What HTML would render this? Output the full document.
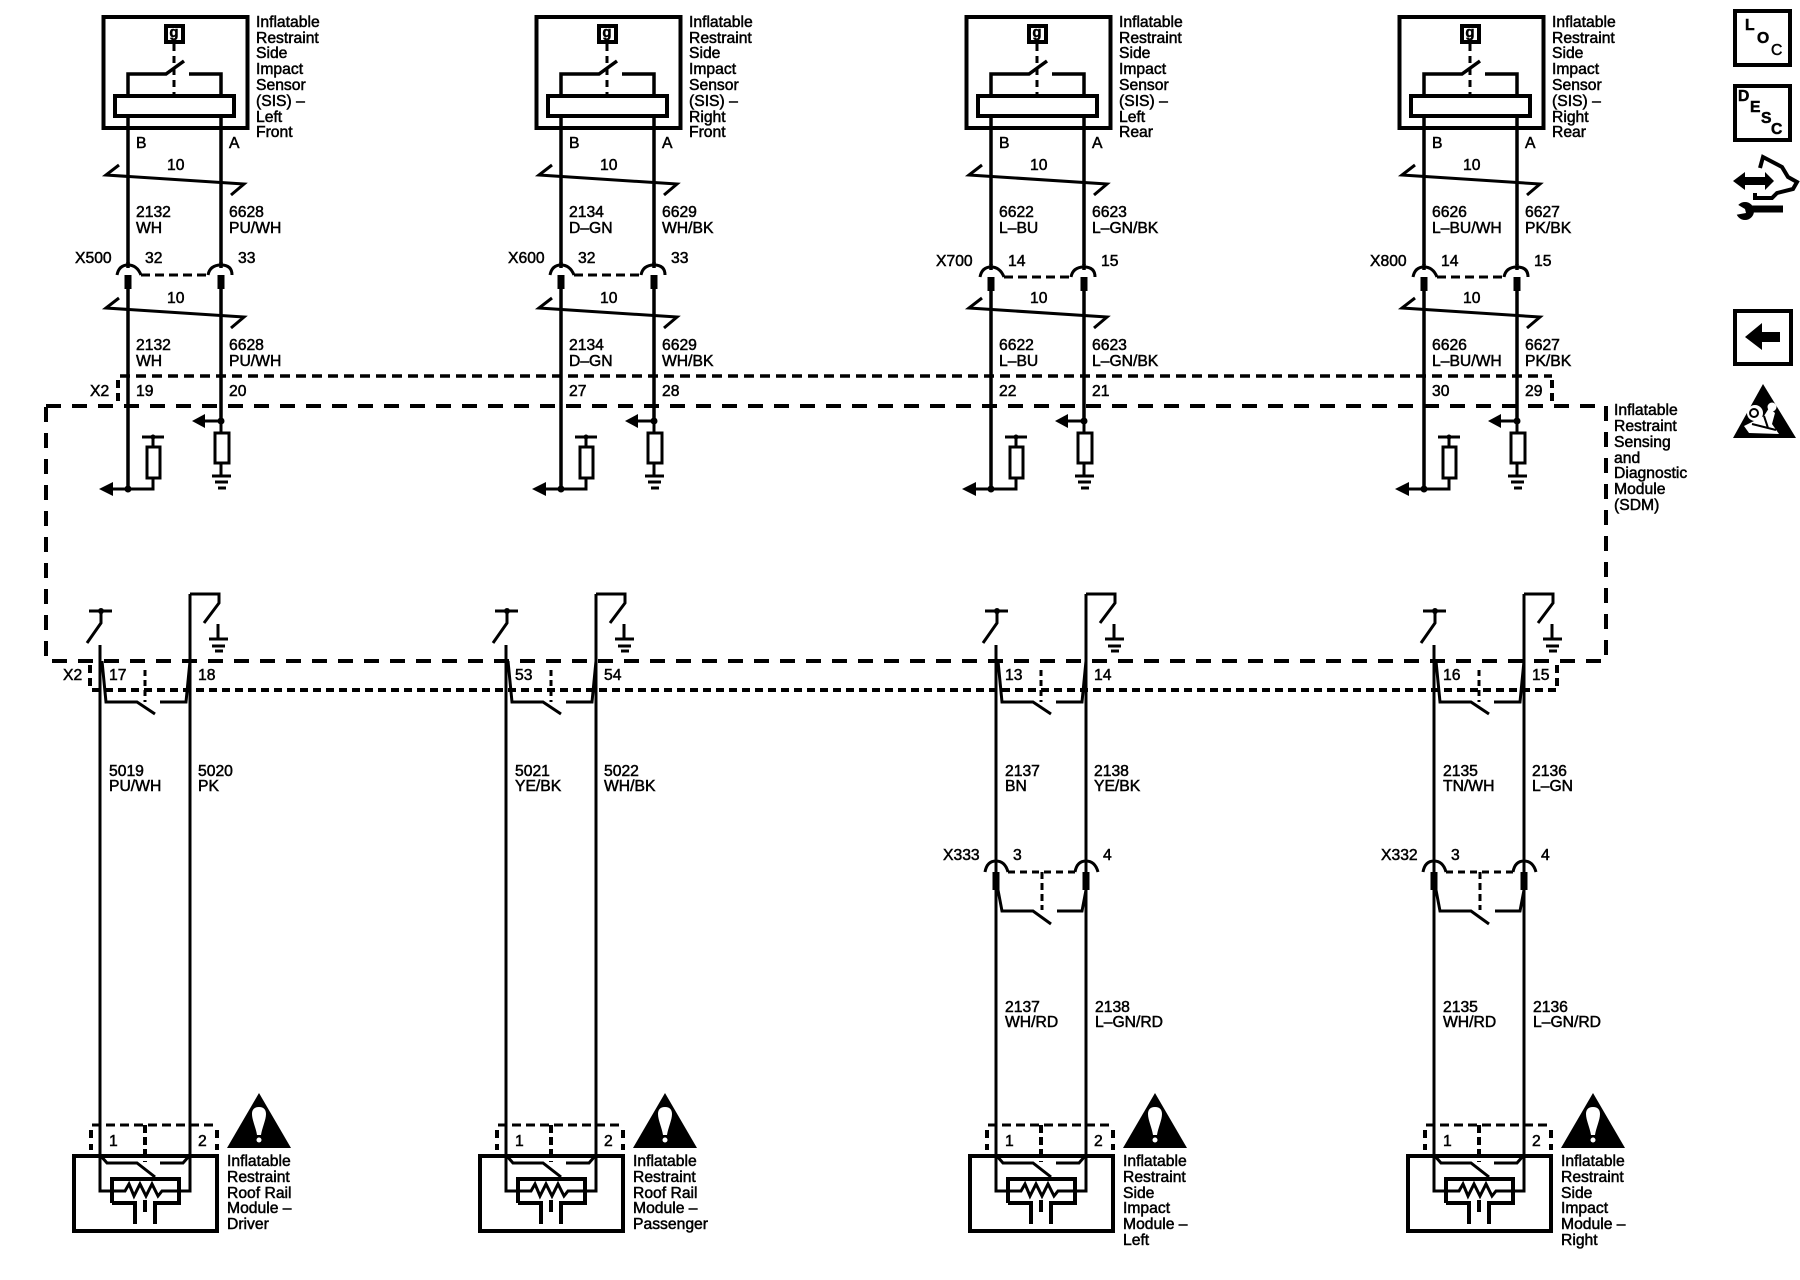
<!DOCTYPE html>
<html><head><meta charset="utf-8"><style>
html,body{margin:0;padding:0;background:#fff}
svg{display:block}
text{font-family:"Liberation Sans",sans-serif;font-size:15.7px;fill:#000;stroke:#000;stroke-width:.5px}
.w{fill:none;stroke:#000;stroke-width:3.5}
.b{fill:none;stroke:#000;stroke-width:4}
.t{fill:none;stroke:#000;stroke-width:3}
</style></head><body>
<svg xmlns="http://www.w3.org/2000/svg" width="1800" height="1280" viewBox="0 0 1800 1280">
<defs>
<g id="top">
<rect class="b" x="103.500" y="17" width="144" height="111"/>
<rect class="b" x="115" y="96" width="119" height="20"/>
<rect class="b" x="166" y="26" width="17" height="16"/>
<path class="t" d="M174 44V94" stroke-dasharray="7 5"/>
<path class="w" d="M128 94V74H166L184 61M189 74H221V94"/>
<path class="w" d="M128 118V265M221 118V265"/>
<path class="t" d="M119 165L106 175L244 184L231 195"/>
<path class="w" d="M128 289V489M221 289V421"/>
<path class="t" d="M119 298L106 308L244 317L231 328"/>
<path class="t" d="M221 421H205"/>
<path d="M192 421L205 414V428Z"/>
<circle cx="221" cy="421" r="3.500"/>
<rect class="t" x="215" y="433" width="14" height="30"/>
<path class="t" d="M221 421V433M221 463V476"/>
<path class="t" d="M212 476H231M215 482H228M218 488H226"/>
<path class="t" d="M142 437H164M153 437V447"/>
<circle cx="153" cy="437" r="2.500"/>
<rect class="t" x="147" y="447" width="13" height="31"/>
<path class="t" d="M153 478V489H113"/>
<path d="M99 489L113 482V496Z"/>
<circle cx="128" cy="489" r="3.500"/>
</g>
<g id="conn1">
<path class="t" d="M117 275Q119 265 128 265T141 275M208 275Q210 265 221 265T232 275"/>
<path class="t" d="M141 275H208" stroke-dasharray="9 5" stroke-width="3.500"/>
<path d="M128 275V289M221 275V289" stroke="#000" stroke-width="7" fill="none"/>
<path class="w" d="M128 262V268M221 262V268"/>
</g>
<g id="low">
<path class="t" d="M89 611H112M101 611V623L87 643"/>
<circle cx="101" cy="611" r="3"/>
<path class="t" d="M190 594H219V603L204 623"/>
<path class="t" d="M218 624V639M209 639H228M212 646H225M215 651H223"/>
<path class="t" d="M100 645V1191H112M190 594V1191H179"/>
<path class="t" d="M102 661L106 702H137L155 714M160 702H186L190 661"/>
<path class="t" d="M145 670V702" stroke-dasharray="6 4"/>
</g>
<g id="conn2">
<path class="t" d="M985 872Q987 861 996 861T1008 872M1075 872Q1077 861 1086 861T1098 872"/>
<path class="t" d="M1008 872H1075" stroke-dasharray="7 5"/>
<path class="t" d="M1042 872V910" stroke-dasharray="7 4" stroke-width="3.500"/>
<path d="M996 872V890M1086 872V890" stroke="#000" stroke-width="7" fill="none"/>
<path class="t" d="M998 890L1002 911H1033L1051 924M1057 911H1082L1086 890"/>
</g>
<g id="mod">
<rect class="b" x="74" y="1156" width="143" height="75"/>
<path class="t" d="M92 1125H217" stroke-dasharray="9 5"/>
<path class="b" d="M91 1130V1150M217 1130V1150" stroke-dasharray="8 6"/>
<path class="b" d="M145 1125V1162" stroke-dasharray="8 4"/>
<path class="t" d="M100 1155L107 1163H137L155 1177M160 1163H183L190 1155"/>
<path class="b" d="M112 1203V1179H179V1203H155V1224M112 1203H135V1224"/>
<path class="t" d="M112 1191H125L129 1184L134 1196L140 1184L146 1196L152 1184L158 1196L162 1191H179"/>
<path class="b" d="M145 1200V1212"/>
<path d="M259 1093L291 1148H227Z"/>
<path fill="#fff" d="M259 1107C254 1107 252 1110 252 1114C252 1120 256 1128 257 1135H261C262 1128 266 1120 266 1114C266 1110 264 1107 259 1107Z"/>
<circle cx="259" cy="1140" r="2.500" fill="#fff"/>
</g>
</defs>

<path d="M46 406H1606V661H46Z" fill="none" stroke="#000" stroke-width="4" stroke-dasharray="15 11"/>
<path d="M120 376H1552" fill="none" stroke="#000" stroke-width="3.500" stroke-dasharray="10 6"/>
<path d="M118 380V406M1552 380V406" fill="none" stroke="#000" stroke-width="4" stroke-dasharray="8 5"/>
<path d="M92 690H1557" fill="none" stroke="#000" stroke-width="4" stroke-dasharray="8 5"/>
<path d="M90 665V690M1557 665V690" fill="none" stroke="#000" stroke-width="4" stroke-dasharray="8 5"/>

<use href="#top"/>
<use href="#top" x="433"/>
<use href="#top" x="863"/>
<use href="#top" x="1296"/>
<use href="#conn1"/>
<use href="#conn1" x="433"/>
<use href="#conn1" x="863" y="2"/>
<use href="#conn1" x="1296" y="2"/>
<use href="#low"/>
<use href="#low" x="406"/>
<use href="#low" x="896"/>
<use href="#low" x="1334"/>
<use href="#conn2"/>
<use href="#conn2" x="438"/>
<use href="#mod"/>
<use href="#mod" x="406"/>
<use href="#mod" x="896"/>
<use href="#mod" x="1334"/>

<g>
<text x="256" y="27">Inflatable</text><text x="256" y="43">Restraint</text><text x="256" y="58">Side</text><text x="256" y="74">Impact</text><text x="256" y="90">Sensor</text><text x="256" y="106">(SIS) –</text><text x="256" y="122">Left</text><text x="256" y="137">Front</text>
<text x="136" y="148">B</text><text x="229" y="148">A</text><text x="167" y="170">10</text>
<text x="136" y="217">2132</text><text x="136" y="233">WH</text><text x="229" y="217">6628</text><text x="229" y="233">PU/WH</text>
<text x="75" y="263">X500</text><text x="145" y="263">32</text><text x="238" y="263">33</text>
<text x="167" y="303">10</text>
<text x="136" y="350">2132</text><text x="136" y="366">WH</text><text x="229" y="350">6628</text><text x="229" y="366">PU/WH</text>
<text x="90" y="396">X2</text><text x="136" y="396">19</text><text x="229" y="396">20</text>
</g>
<g transform="translate(433,0)">
<text x="256" y="27">Inflatable</text><text x="256" y="43">Restraint</text><text x="256" y="58">Side</text><text x="256" y="74">Impact</text><text x="256" y="90">Sensor</text><text x="256" y="106">(SIS) –</text><text x="256" y="122">Right</text><text x="256" y="137">Front</text>
<text x="136" y="148">B</text><text x="229" y="148">A</text><text x="167" y="170">10</text>
<text x="136" y="217">2134</text><text x="136" y="233">D–GN</text><text x="229" y="217">6629</text><text x="229" y="233">WH/BK</text>
<text x="75" y="263">X600</text><text x="145" y="263">32</text><text x="238" y="263">33</text>
<text x="167" y="303">10</text>
<text x="136" y="350">2134</text><text x="136" y="366">D–GN</text><text x="229" y="350">6629</text><text x="229" y="366">WH/BK</text>
<text x="136" y="396">27</text><text x="229" y="396">28</text>
</g>
<g transform="translate(863,0)">
<text x="256" y="27">Inflatable</text><text x="256" y="43">Restraint</text><text x="256" y="58">Side</text><text x="256" y="74">Impact</text><text x="256" y="90">Sensor</text><text x="256" y="106">(SIS) –</text><text x="256" y="122">Left</text><text x="256" y="137">Rear</text>
<text x="136" y="148">B</text><text x="229" y="148">A</text><text x="167" y="170">10</text>
<text x="136" y="217">6622</text><text x="136" y="233">L–BU</text><text x="229" y="217">6623</text><text x="229" y="233">L–GN/BK</text>
<text x="73" y="266">X700</text><text x="145" y="266">14</text><text x="238" y="266">15</text>
<text x="167" y="303">10</text>
<text x="136" y="350">6622</text><text x="136" y="366">L–BU</text><text x="229" y="350">6623</text><text x="229" y="366">L–GN/BK</text>
<text x="136" y="396">22</text><text x="229" y="396">21</text>
</g>
<g transform="translate(1296,0)">
<text x="256" y="27">Inflatable</text><text x="256" y="43">Restraint</text><text x="256" y="58">Side</text><text x="256" y="74">Impact</text><text x="256" y="90">Sensor</text><text x="256" y="106">(SIS) –</text><text x="256" y="122">Right</text><text x="256" y="137">Rear</text>
<text x="136" y="148">B</text><text x="229" y="148">A</text><text x="167" y="170">10</text>
<text x="136" y="217">6626</text><text x="136" y="233">L–BU/WH</text><text x="229" y="217">6627</text><text x="229" y="233">PK/BK</text>
<text x="74" y="266">X800</text><text x="145" y="266">14</text><text x="238" y="266">15</text>
<text x="167" y="303">10</text>
<text x="136" y="350">6626</text><text x="136" y="366">L–BU/WH</text><text x="229" y="350">6627</text><text x="229" y="366">PK/BK</text>
<text x="136" y="396">30</text><text x="229" y="396">29</text>
</g>

<text x="1614" y="415">Inflatable</text><text x="1614" y="431">Restraint</text><text x="1614" y="447">Sensing</text><text x="1614" y="463">and</text><text x="1614" y="478">Diagnostic</text><text x="1614" y="494">Module</text><text x="1614" y="510">(SDM)</text>

<g>
<text x="63" y="680">X2</text><text x="109" y="680">17</text><text x="198" y="680">18</text>
<text x="109" y="776">5019</text><text x="109" y="791">PU/WH</text><text x="198" y="776">5020</text><text x="198" y="791">PK</text>
<text x="109" y="1146">1</text><text x="198" y="1146">2</text>
<text x="227" y="1166">Inflatable</text><text x="227" y="1182">Restraint</text><text x="227" y="1198">Roof Rail</text><text x="227" y="1213">Module –</text><text x="227" y="1229">Driver</text>
</g>
<g transform="translate(406,0)">
<text x="109" y="680">53</text><text x="198" y="680">54</text>
<text x="109" y="776">5021</text><text x="109" y="791">YE/BK</text><text x="198" y="776">5022</text><text x="198" y="791">WH/BK</text>
<text x="109" y="1146">1</text><text x="198" y="1146">2</text>
<text x="227" y="1166">Inflatable</text><text x="227" y="1182">Restraint</text><text x="227" y="1198">Roof Rail</text><text x="227" y="1213">Module –</text><text x="227" y="1229">Passenger</text>
</g>
<g transform="translate(896,0)">
<text x="109" y="680">13</text><text x="198" y="680">14</text>
<text x="109" y="776">2137</text><text x="109" y="791">BN</text><text x="198" y="776">2138</text><text x="198" y="791">YE/BK</text>
<text x="47" y="860">X333</text><text x="117" y="860">3</text><text x="207" y="860">4</text>
<text x="109" y="1012">2137</text><text x="109" y="1027">WH/RD</text><text x="199" y="1012">2138</text><text x="199" y="1027">L–GN/RD</text>
<text x="109" y="1146">1</text><text x="198" y="1146">2</text>
<text x="227" y="1166">Inflatable</text><text x="227" y="1182">Restraint</text><text x="227" y="1198">Side</text><text x="227" y="1213">Impact</text><text x="227" y="1229">Module –</text><text x="227" y="1245">Left</text>
</g>
<g transform="translate(1334,0)">
<text x="109" y="680">16</text><text x="198" y="680">15</text>
<text x="109" y="776">2135</text><text x="109" y="791">TN/WH</text><text x="198" y="776">2136</text><text x="198" y="791">L–GN</text>
<text x="47" y="860">X332</text><text x="117" y="860">3</text><text x="207" y="860">4</text>
<text x="109" y="1012">2135</text><text x="109" y="1027">WH/RD</text><text x="199" y="1012">2136</text><text x="199" y="1027">L–GN/RD</text>
<text x="109" y="1146">1</text><text x="198" y="1146">2</text>
<text x="227" y="1166">Inflatable</text><text x="227" y="1182">Restraint</text><text x="227" y="1198">Side</text><text x="227" y="1213">Impact</text><text x="227" y="1229">Module –</text><text x="227" y="1245">Right</text>
</g>
<text x="174" y="37" text-anchor="middle" style="font-size:15px;font-weight:bold">g</text>
<text x="607" y="37" text-anchor="middle" style="font-size:15px;font-weight:bold">g</text>
<text x="1037" y="37" text-anchor="middle" style="font-size:15px;font-weight:bold">g</text>
<text x="1470" y="37" text-anchor="middle" style="font-size:15px;font-weight:bold">g</text>

<rect class="b" x="1735" y="11" width="55" height="54"/>
<text x="1745" y="30" style="font-weight:bold">L</text><text x="1757" y="43" style="font-weight:bold">O</text><text x="1771" y="55">C</text>
<rect class="b" x="1735" y="86" width="55" height="54"/>
<text x="1738" y="101" style="font-weight:bold">D</text><text x="1750" y="112" style="font-weight:bold">E</text><text x="1761" y="123" style="font-weight:bold">S</text><text x="1771" y="134" style="font-weight:bold">C</text>

<path d="M1733 181L1745 172V177H1765V172L1774 181L1765 190V185H1745V190Z"/>
<path fill="none" stroke="#000" stroke-width="4" d="M1760 168L1763 157L1782 167L1788 177L1797 182L1793 189L1777 193L1772 198H1755V193"/>
<path d="M1750 205.500H1783V212.500H1750Z"/>
<circle cx="1745" cy="211" r="9"/>
<path d="M1735 203L1745 209L1746 213L1735 215Z" fill="#fff"/>

<rect class="b" x="1735" y="311" width="56" height="53"/>
<path d="M1745 337L1762 323V332H1780V342H1762V350Z"/>

<path d="M1763 384L1796 438H1733Z"/>
<circle cx="1755" cy="413" r="8" fill="#fff"/>
<circle cx="1754" cy="413" r="4" fill="none" stroke="#000" stroke-width="2"/>
<circle cx="1772" cy="407" r="4.500" fill="#fff"/>
<path fill="#fff" d="M1744 426L1764 416L1769 408L1775 413L1772 424L1779 434L1749 433Z"/>
<path fill="none" stroke="#000" stroke-width="2" d="M1752 424L1776 430M1764 416L1768 428"/>
</svg>
</body></html>
